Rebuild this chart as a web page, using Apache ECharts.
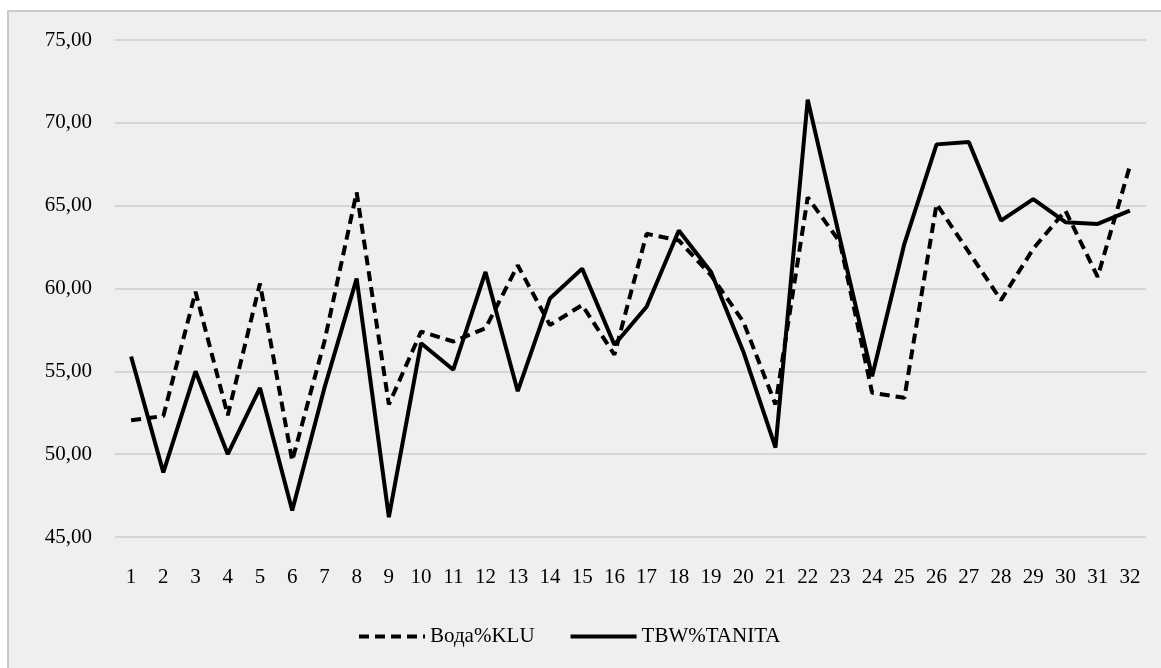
<!DOCTYPE html>
<html>
<head>
<meta charset="utf-8">
<script src="https://cdn.jsdelivr.net/npm/echarts@6/dist/echarts.min.js"></script>
<style>
html,body{margin:0;padding:0;background:#fff;}
#chart{width:1161px;height:668px;}
</style>
</head>
<body>
<div id="chart"></div>
<script>
const categories = ['1','2','3','4','5','6','7','8','9','10','11','12','13','14','15','16','17','18','19','20','21','22','23','24','25','26','27','28','29','30','31','32'];
const seriesNames = ['Вода%KLU', 'TBW%TANITA'];
const kluValues = [52.05, 52.3, 59.8, 52.35, 60.3, 49.6, 56.8, 65.8, 53.0, 57.4, 56.8, 57.6, 61.4, 57.8, 59.0, 56.0, 63.3, 62.9, 60.8, 58.0, 53.0, 65.5, 62.8, 53.7, 53.4, 65.1, 62.2, 59.3, 62.4, 64.7, 60.7, 67.4];
const tanitaValues = [55.9, 48.9, 55.0, 50.0, 54.0, 46.6, 54.0, 60.6, 46.2, 56.7, 55.1, 61.0, 53.8, 59.4, 61.2, 56.6, 58.9, 63.5, 61.0, 56.2, 50.4, 71.4, 63.0, 54.7, 62.7, 68.7, 68.85, 64.1, 65.4, 64.0, 63.9, 64.7];
const yMin = 45, yMax = 75, yStep = 5;

const chart = echarts.init(document.getElementById('chart'), null, {renderer: 'canvas'});
const font = '"Liberation Serif", "Times New Roman", serif';
chart.setOption({
  backgroundColor: '#ffffff',
  animation: false,
  graphic: [{
    type: 'rect', z: -100, silent: true,
    shape: {x: 8, y: 11, width: 1170, height: 680},
    style: {fill: '#efefef', stroke: '#cbcbcb', lineWidth: 2}
  }],
  grid: {left: 115, right: 15, top: 40, bottom: 131},
  legend: {
    data: seriesNames,
    bottom: 16, left: 352,
    itemWidth: 66, itemHeight: 14, itemGap: 34,
    itemStyle: {opacity: 0},
    lineStyle: {width: 4},
    textStyle: {fontFamily: font, fontSize: 21, color: '#000'}
  },
  xAxis: {
    type: 'category', data: categories, boundaryGap: true,
    axisLine: {show: false}, axisTick: {show: false},
    axisLabel: {fontFamily: font, fontSize: 21, color: '#000', margin: 30, interval: 0}
  },
  yAxis: {
    type: 'value', min: yMin, max: yMax, interval: yStep,
    axisLine: {show: false}, axisTick: {show: false},
    splitLine: {lineStyle: {color: '#cdcdcd', width: 1.5}},
    axisLabel: {fontFamily: font, fontSize: 21, color: '#000', margin: 23,
      formatter: v => v.toFixed(2).replace('.', ',')}
  },
  series: [
    {name: seriesNames[0], type: 'line', data: kluValues, symbol: 'none',
     lineStyle: {color: '#000', width: 4, type: [10, 6]}, itemStyle: {color: '#000'}},
    {name: seriesNames[1], type: 'line', data: tanitaValues, symbol: 'none',
     lineStyle: {color: '#000', width: 4, type: 'solid'}, itemStyle: {color: '#000'}}
  ]
});
</script>
</body>
</html>
